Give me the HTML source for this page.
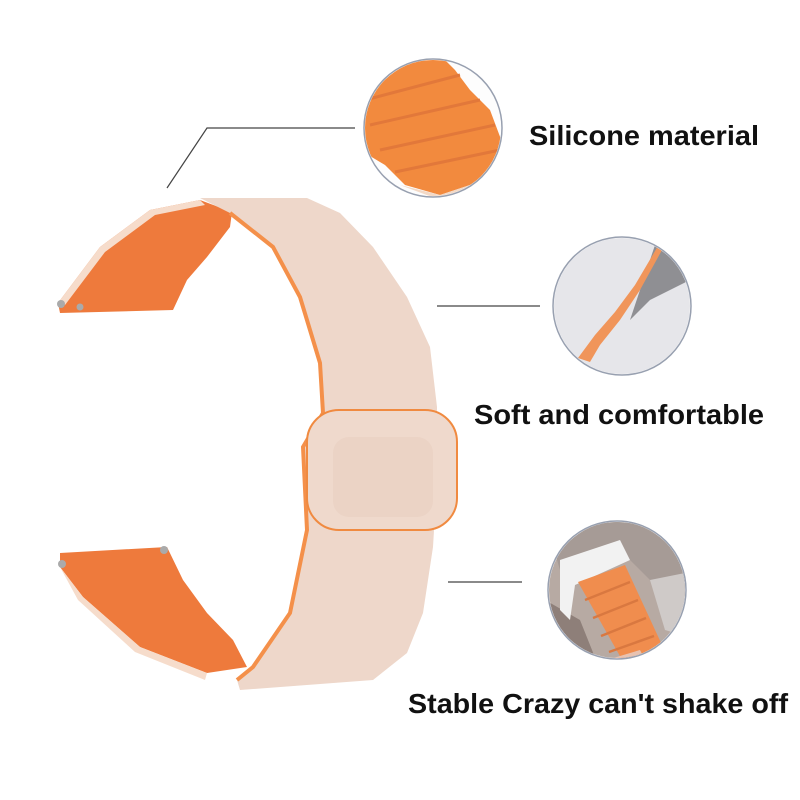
<!DOCTYPE html>
<html><head><meta charset="utf-8"><style>
html,body{margin:0;padding:0;background:#fff;width:800px;height:800px;overflow:hidden}
</style></head><body>
<svg width="800" height="800" viewBox="0 0 800 800" xmlns="http://www.w3.org/2000/svg">
<defs>
<clipPath id="c1"><circle cx="433" cy="128" r="68"/></clipPath>
<clipPath id="c2"><circle cx="622" cy="306" r="68"/></clipPath>
<clipPath id="c3"><circle cx="617" cy="590" r="68"/></clipPath>
</defs>
<rect width="800" height="800" fill="#fff"/>
<polyline points="167,188 207,128 355,128" fill="none" stroke="#444" stroke-width="1.2"/>
<line x1="437" y1="306" x2="540" y2="306" stroke="#444" stroke-width="1.2"/>
<line x1="448" y1="582" x2="522" y2="582" stroke="#444" stroke-width="1.2"/>

<g clip-path="url(#c1)">
<rect x="360" y="55" width="150" height="150" fill="#fdfdfd"/>
<path d="M360,75 L440,55 L455,70 L470,90 L490,110 L505,150 L500,175 L470,185 L440,195 L405,185 L385,165 L360,150 Z" fill="#f28a3e"/>
<path d="M365,100 L460,75 M370,125 L480,100 M380,150 L495,125 M395,172 L500,150" stroke="#e2783a" stroke-width="3" fill="none"/>
<path d="M400,185 L440,195 L470,185 L505,175 L505,185 L440,200 Z" fill="#f3d9c6"/>
</g>
<circle cx="433" cy="128" r="69" fill="none" stroke="#98a0b0" stroke-width="1.5"/>

<g clip-path="url(#c2)">
<rect x="550" y="235" width="150" height="150" fill="#e6e6ea"/>
<path d="M655,245 L668,250 L690,262 L690,280 L650,300 L630,320 L640,290 Z" fill="#8f8f93"/>
<path d="M658,246 L662,250 L640,290 L620,320 L600,345 L590,362 L578,358 L595,335 L615,312 L635,285 Z" fill="#f0955a"/>
</g>
<circle cx="622" cy="306" r="69" fill="none" stroke="#98a0b0" stroke-width="1.5"/>

<g clip-path="url(#c3)">
<rect x="545" y="520" width="150" height="150" fill="#b7aaa3"/>
<path d="M545,520 L700,520 L700,600 L660,590 L630,560 L560,570 Z" fill="#a69b96"/>
<path d="M545,600 L580,620 L600,670 L545,670 Z" fill="#8e7f79"/>
<path d="M650,580 L700,570 L700,640 L665,630 Z" fill="#cfcac8"/>
<path d="M560,560 L620,540 L630,560 L575,585 L570,620 L560,610 Z" fill="#f2f2f2"/>
<path d="M578,582 L625,565 L662,645 L625,665 Z" fill="#f08d4e"/>
<path d="M585,600 L630,582 M593,618 L638,600 M601,636 L646,618 M609,652 L654,636" stroke="#d97840" stroke-width="2.5"/>
<path d="M600,662 L640,650 L650,670 L605,670 Z" fill="#e8c2b0"/>
</g>
<circle cx="617" cy="590" r="69" fill="none" stroke="#98a0b0" stroke-width="1.5"/>

<path d="M58,303 L100,247 L150,210 L200,200 L232,212 L230,227 L207,257 L187,280 L173,310 L60,313 Z" fill="#ee7a3c"/>
<path d="M58,303 L100,247 L150,210 L200,200 L205,205 L155,215 L105,252 L65,305 Z" fill="#f6dccb"/>
<path d="M60,553 L167,547 L183,580 L207,613 L233,640 L247,667 L207,673 L140,647 L83,597 L60,567 Z" fill="#ee7a3c"/>
<path d="M60,567 L83,597 L140,647 L207,673 L205,680 L135,652 L78,600 Z" fill="#f6dccb"/>
<path d="M200,198 L307,198 L340,213 L373,247 L407,297 L430,347 L437,407 L437,480 L433,547 L423,613 L407,653 L373,680 L240,690 L237,680 L253,667 L290,613 L307,530 L303,447 L323,413 L320,363 L300,297 L273,247 L230,213 Z" fill="#eed7ca"/>
<path d="M230,213 L273,247 L300,297 L320,363 L323,413 L303,447 L307,530 L290,613 L253,667 L237,680" fill="none" stroke="#f4904a" stroke-width="4"/>
<rect x="307" y="410" width="150" height="120" rx="32" fill="#efd9cc" stroke="#f08a40" stroke-width="2"/>
<rect x="333" y="437" width="100" height="80" rx="16" fill="#ebd3c5"/>
<circle cx="61" cy="304" r="4" fill="#aaa"/>
<circle cx="80" cy="307" r="3.5" fill="#aaa"/>
<circle cx="62" cy="564" r="4" fill="#aaa"/>
<circle cx="164" cy="550" r="4" fill="#aaa"/>

<g font-family="'Liberation Sans',sans-serif" font-size="28" fill="#111" font-weight="bold">
<text x="529" y="145" textLength="230" lengthAdjust="spacingAndGlyphs">Silicone material</text>
<text x="474" y="424" textLength="290" lengthAdjust="spacingAndGlyphs">Soft and comfortable</text>
<text x="408" y="713" textLength="380" lengthAdjust="spacingAndGlyphs">Stable Crazy can't shake off</text>
</g>
</svg>
</body></html>
